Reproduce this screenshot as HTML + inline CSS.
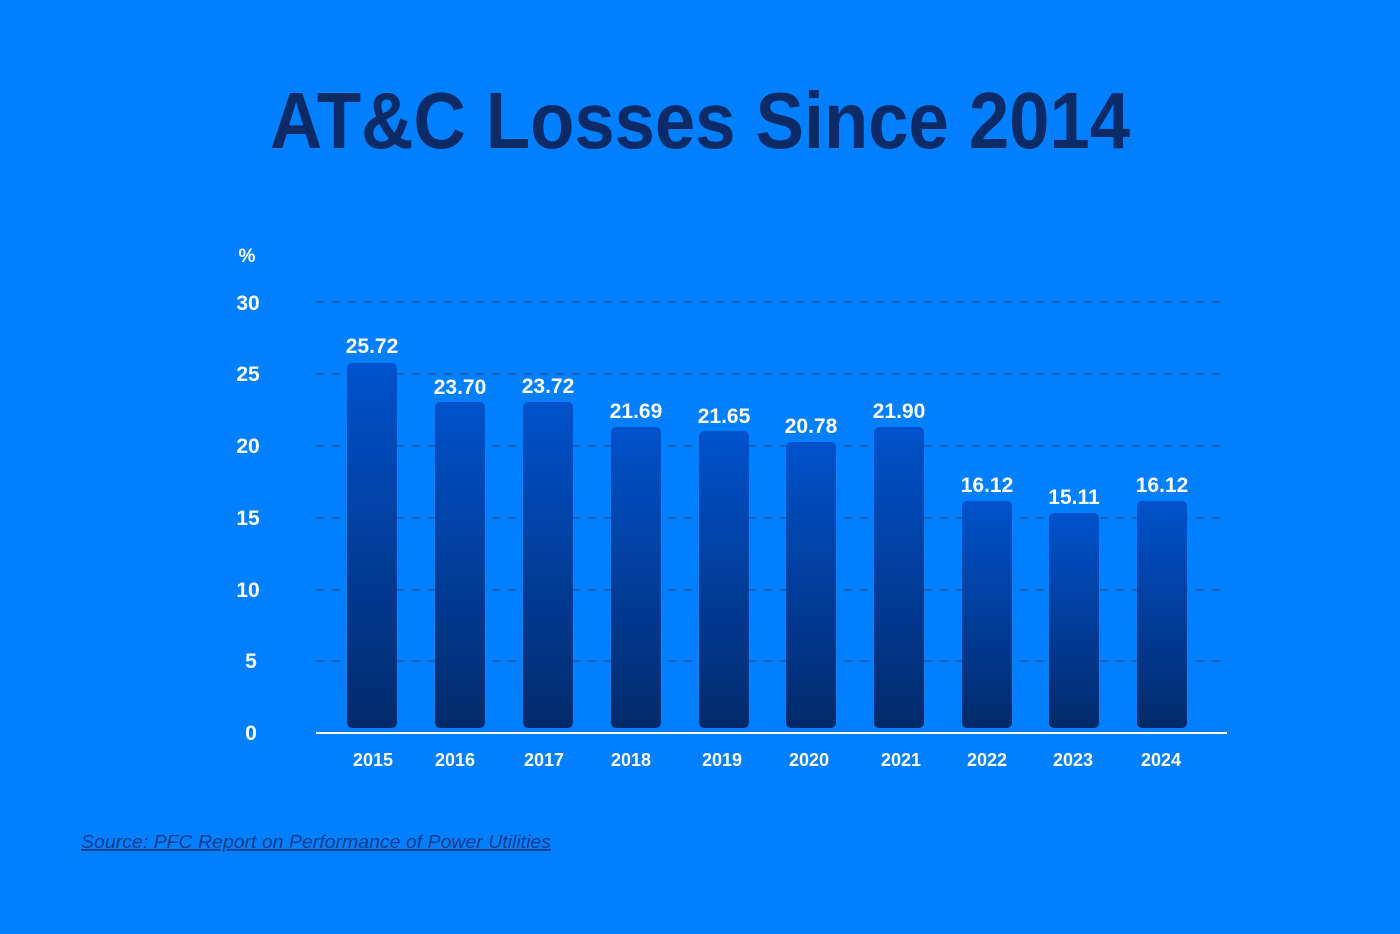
<!DOCTYPE html>
<html><head><meta charset="utf-8"><style>
html,body{margin:0;padding:0;background:#0080fe;}
svg{display:block}
</style></head><body>
<svg width="1400" height="934" viewBox="0 0 1400 934" xmlns="http://www.w3.org/2000/svg">
<defs>
<linearGradient id="g" x1="0" y1="0" x2="0" y2="1">
<stop offset="0" stop-color="#0152cc"/>
<stop offset="1" stop-color="#022a6a"/>
</linearGradient>
</defs>
<rect width="1400" height="934" fill="#0080fe"/>
<text x="700" y="148" text-anchor="middle" font-family="Liberation Sans, sans-serif" font-weight="bold" font-size="80" fill="#0b2a66" textLength="860" lengthAdjust="spacingAndGlyphs">AT&amp;C Losses Since 2014</text>
<g stroke="#2358ad" stroke-width="1.5" stroke-dasharray="8,8">
<line x1="316" y1="302" x2="1226" y2="302"/>
<line x1="316" y1="374" x2="1226" y2="374"/>
<line x1="316" y1="446" x2="1226" y2="446"/>
<line x1="316" y1="518" x2="1226" y2="518"/>
<line x1="316" y1="590" x2="1226" y2="590"/>
<line x1="316" y1="661" x2="1226" y2="661"/>
</g>
<g font-family="Liberation Sans, sans-serif" font-weight="bold" fill="#fff" font-size="21" text-anchor="middle">
<text x="247" y="262" font-size="19">%</text>
<text x="248" y="310">30</text>
<text x="248" y="381">25</text>
<text x="248" y="453">20</text>
<text x="248" y="525">15</text>
<text x="248" y="597">10</text>
<text x="251" y="668">5</text>
<text x="251" y="740">0</text>
</g>
<g fill="url(#g)">
<rect x="347" y="363" width="50" height="365" rx="5"/>
<rect x="435" y="402" width="50" height="326" rx="5"/>
<rect x="523" y="402" width="50" height="326" rx="5"/>
<rect x="611" y="427" width="50" height="301" rx="5"/>
<rect x="699" y="431" width="50" height="297" rx="5"/>
<rect x="786" y="442" width="50" height="286" rx="5"/>
<rect x="874" y="427" width="50" height="301" rx="5"/>
<rect x="962" y="501" width="50" height="227" rx="5"/>
<rect x="1049" y="513" width="50" height="215" rx="5"/>
<rect x="1137" y="501" width="50" height="227" rx="5"/>
</g>
<line x1="316" y1="733" x2="1227" y2="733" stroke="#fff" stroke-width="2"/>
<g font-family="Liberation Sans, sans-serif" font-weight="bold" fill="#fff" font-size="21" text-anchor="middle">
<text x="372" y="353">25.72</text>
<text x="460" y="394">23.70</text>
<text x="548" y="393">23.72</text>
<text x="636" y="418">21.69</text>
<text x="724" y="423">21.65</text>
<text x="811" y="433">20.78</text>
<text x="899" y="418">21.90</text>
<text x="987" y="492">16.12</text>
<text x="1074" y="504">15.11</text>
<text x="1162" y="492">16.12</text>
</g>
<g font-family="Liberation Sans, sans-serif" font-weight="bold" fill="#fff" font-size="18" text-anchor="middle">
<text x="373" y="766">2015</text>
<text x="455" y="766">2016</text>
<text x="544" y="766">2017</text>
<text x="631" y="766">2018</text>
<text x="722" y="766">2019</text>
<text x="809" y="766">2020</text>
<text x="901" y="766">2021</text>
<text x="987" y="766">2022</text>
<text x="1073" y="766">2023</text>
<text x="1161" y="766">2024</text>
</g>
<text x="81" y="848" font-family="Liberation Sans, sans-serif" font-style="italic" font-size="18" fill="#0b3a8a" text-decoration="underline" textLength="470" lengthAdjust="spacingAndGlyphs">Source: PFC Report on Performance of Power Utilities</text>
</svg>
</body></html>
